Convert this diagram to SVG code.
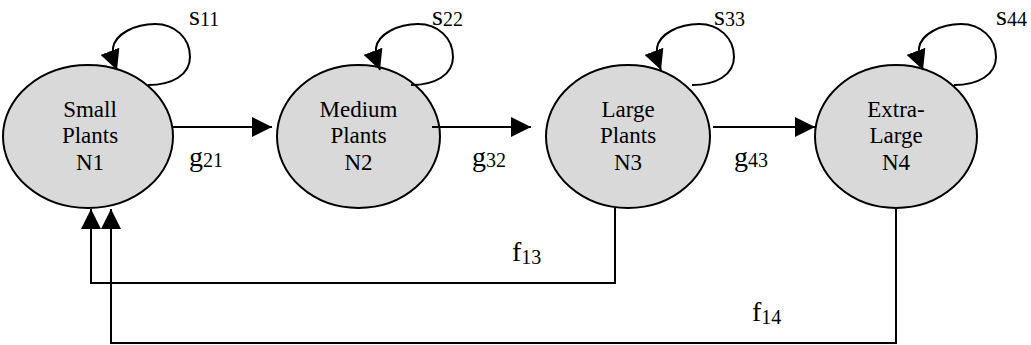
<svg xmlns="http://www.w3.org/2000/svg" width="1031" height="345" viewBox="0 0 1031 345">
<style>
.node{fill:#d9d9d9;stroke:#000;stroke-width:2}
.nt{font-size:23px;fill:#000;text-anchor:middle}
.lbl{font-size:28px;fill:#000}
.sub{font-size:20px}
.c{fill:none;stroke:#000;stroke-width:2}
</style>
<defs>
<marker id="ah" markerUnits="userSpaceOnUse" markerWidth="20" markerHeight="20" refX="20" refY="10" orient="auto">
<path d="M0,0 L20,10 L0,20 z" fill="#000"/>
</marker>
</defs>
<rect width="1031" height="345" fill="#fff"/>
<g font-family="'Liberation Serif', 'Times New Roman', serif">
<g id="n1">
<ellipse class="node" cx="88" cy="136.5" rx="85" ry="71.5"/>
<text class="nt" x="90" y="117">Small</text>
<text class="nt" x="90" y="143">Plants</text>
<text class="nt" x="90" y="170">N1</text>
</g>
<g id="n2">
<ellipse class="node" cx="358.5" cy="136.5" rx="81.5" ry="71.5"/>
<text class="nt" x="358.5" y="117">Medium</text>
<text class="nt" x="358.5" y="143">Plants</text>
<text class="nt" x="358.5" y="170">N2</text>
</g>
<g id="n3">
<ellipse class="node" cx="628" cy="136.5" rx="82" ry="71.5"/>
<text class="nt" x="628" y="117">Large</text>
<text class="nt" x="628" y="143">Plants</text>
<text class="nt" x="628" y="170">N3</text>
</g>
<g id="n4">
<ellipse class="node" cx="896" cy="136.5" rx="81" ry="71.5"/>
<text class="nt" x="896" y="117">Extra-</text>
<text class="nt" x="896" y="143">Large</text>
<text class="nt" x="896" y="170">N4</text>
</g>
<g id="connectors">
<path class="c" marker-end="url(#ah)" d="M148,85 C172,85 190,75 190,57 C190,38 175,24 155,24 C135,24 115,34 113,48 C112,55 114,62 117,70"/>
<path class="c" marker-end="url(#ah)" d="M411,85 C435,85 453,75 453,57 C453,38 438,24 418,24 C398,24 378,34 376,48 C375,55 377,62 380,70"/>
<path class="c" marker-end="url(#ah)" d="M692,85 C716,85 734,75 734,57 C734,38 719,24 699,24 C679,24 659,34 657,48 C656,55 658,62 661,70"/>
<path class="c" marker-end="url(#ah)" d="M954,85 C978,85 996,75 996,57 C996,38 981,24 961,24 C941,24 921,34 919,48 C918,55 920,62 923,70"/>
<path class="c" marker-end="url(#ah)" d="M172,127 L272,127"/>
<path class="c" marker-end="url(#ah)" d="M432,127 L531,127"/>
<path class="c" marker-end="url(#ah)" d="M713,127 L815,127"/>
<path class="c" marker-end="url(#ah)" d="M615,208 L615,283 L91,283 L91,209"/>
<path class="c" marker-end="url(#ah)" d="M896,208 L896,343 L111,343 L111,209"/>
</g>
<g id="labels">
<text class="lbl" x="189" y="25">s<tspan class="sub" dy="1">11</tspan></text>
<text class="lbl" x="432" y="25">s<tspan class="sub" dy="1">22</tspan></text>
<text class="lbl" x="714" y="25">s<tspan class="sub" dy="1">33</tspan></text>
<text class="lbl" x="996" y="25">s<tspan class="sub" dy="1">44</tspan></text>
<text class="lbl" x="189" y="166">g<tspan class="sub" dy="1">21</tspan></text>
<text class="lbl" x="472" y="166">g<tspan class="sub" dy="1">32</tspan></text>
<text class="lbl" x="734" y="166">g<tspan class="sub" dy="1">43</tspan></text>
<text class="lbl" x="512" y="261">f<tspan class="sub" dy="3">13</tspan></text>
<text class="lbl" x="752" y="321">f<tspan class="sub" dy="3">14</tspan></text>
</g>
</g>
</svg>
